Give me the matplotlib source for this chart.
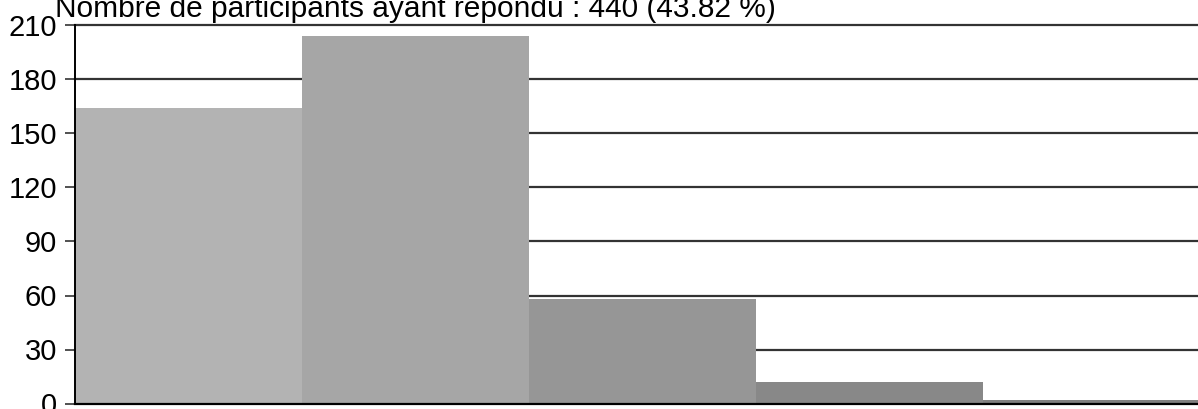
import matplotlib.pyplot as plt

plt.rcParams['font.family'] = ['Liberation Sans', 'DejaVu Sans']

# answer counts per category (total 440)
counts = [164, 204, 58, 12, 2]
colors = ['#b3b3b3', '#a6a6a6', '#969696', '#888888', '#808080']
yticks = [0, 30, 60, 90, 120, 150, 180, 210]
title = "Nombre de participants ayant répondu : 440 (43.82 %)"

fig = plt.figure(figsize=(11.98, 4.09), dpi=100)
ax = fig.add_axes([75 / 1198, 5.5 / 409, 1135 / 1198, 378 / 409])

x = range(len(counts))
ax.bar(x, counts, width=1.0, color=colors, align='edge', zorder=2)

ax.set_xlim(0, len(counts))
ax.set_ylim(0, 210)
ax.set_yticks(yticks)
ax.set_xticks([])
ax.tick_params(axis='y', labelsize=21, length=7, width=1.2, color='#333333', pad=6)

for y in yticks[1:]:
    ax.axhline(y, color='#333333', lw=1.6, zorder=1, clip_on=False)

for side in ['top', 'right']:
    ax.spines[side].set_visible(False)
ax.spines['left'].set_linewidth(1.4)
ax.spines['bottom'].set_linewidth(1.6)
ax.spines['bottom'].set_zorder(3)

fig.text(55 / 1198, 1 - 17 / 409, title, fontsize=21.5, ha='left', va='baseline')

fig.savefig('out.png', dpi=100)
